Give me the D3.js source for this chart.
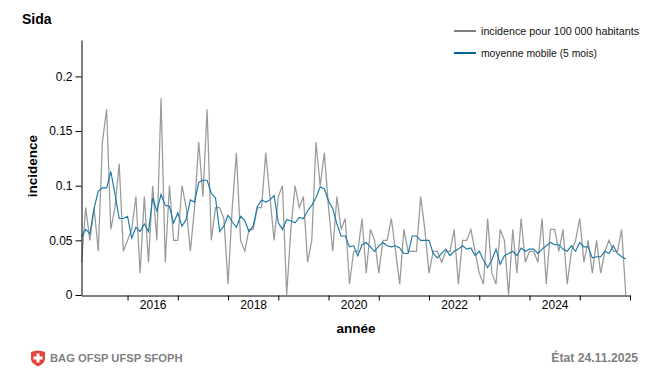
<!DOCTYPE html>
<html><head><meta charset="utf-8">
<script src="https://cdn.jsdelivr.net/npm/d3@7/dist/d3.min.js"></script>
<style>html,body{margin:0;padding:0;background:#fff}svg{display:block}text{font-family:"Liberation Sans",Arial,sans-serif}</style>
</head><body><svg id="c" width="650" height="368"></svg>
<script>
const incidence=[0.03,0.08,0.05,0.08,0.04,0.14,0.17,0.06,0.08,0.12,0.04,0.05,0.06,0.09,0.02,0.09,0.03,0.10,0.05,0.18,0.03,0.10,0.05,0.05,0.10,0.08,0.04,0.08,0.14,0.09,0.17,0.05,0.08,0.08,0.07,0.01,0.08,0.13,0.05,0.04,0.06,0.06,0.08,0.08,0.13,0.09,0.05,0.09,0.10,0,0.06,0.10,0.08,0.09,0.03,0.05,0.14,0.10,0.13,0.08,0.04,0.09,0.06,0.07,0.01,0.04,0.04,0.07,0.02,0.06,0.05,0.02,0.05,0.05,0.07,0.04,0.01,0.06,0.04,0.04,0.04,0.09,0.06,0.02,0.04,0.04,0.03,0.04,0.04,0.06,0.01,0.05,0.05,0.06,0.04,0.02,0.01,0.07,0.02,0.01,0.06,0.05,0,0.06,0.02,0.07,0.03,0.04,0.04,0.03,0.07,0.01,0.06,0.06,0.04,0.06,0.01,0.04,0.05,0.07,0.03,0.05,0.02,0.05,0.02,0.04,0.05,0.04,0.04,0.06,0];
const movingAverage=[0.053,0.06,0.056,0.079,0.095,0.098,0.098,0.113,0.092,0.07,0.07,0.072,0.052,0.062,0.058,0.065,0.058,0.089,0.077,0.092,0.082,0.081,0.066,0.075,0.063,0.069,0.087,0.085,0.103,0.105,0.105,0.093,0.089,0.058,0.063,0.073,0.067,0.062,0.072,0.068,0.058,0.063,0.081,0.087,0.085,0.087,0.091,0.066,0.06,0.069,0.068,0.066,0.071,0.07,0.077,0.082,0.089,0.099,0.097,0.086,0.079,0.065,0.054,0.054,0.044,0.045,0.036,0.046,0.048,0.044,0.04,0.045,0.048,0.045,0.044,0.045,0.043,0.038,0.038,0.054,0.054,0.05,0.05,0.05,0.038,0.034,0.038,0.042,0.036,0.04,0.042,0.045,0.042,0.043,0.036,0.04,0.032,0.025,0.032,0.042,0.028,0.036,0.038,0.04,0.036,0.043,0.04,0.042,0.042,0.038,0.042,0.045,0.048,0.046,0.046,0.042,0.04,0.045,0.04,0.048,0.044,0.044,0.034,0.035,0.035,0.04,0.038,0.045,0.038,0.035,0.033];
const yearTickIndex=[11,23,35,47,59,71,83,95,107,119,131];
const yearLabelIndex=[17,41,65,89,113];
const yearLabels=["2016","2018","2020","2022","2024"];
const yTicks=[0,0.05,0.1,0.15,0.2];
const seriesNames=["incidence pour 100 000 habitants","moyenne mobile (5 mois)"];
const seriesColors=["#808080","#006699"];
const legendWidths=[158,116];

const svg=d3.select("#c");
const x=d3.scaleLinear().domain([0,131]).range([81.5,630]);
const y=d3.scaleLinear().domain([0,0.2333]).range([295,40]);
const line=d3.line().x((d,i)=>x(i)).y(d=>y(d));

svg.append("path").datum(incidence).attr("d",line).attr("fill","none").attr("stroke","#9a9a9a").attr("stroke-width",1.25);
svg.append("path").datum(movingAverage).attr("d",line).attr("fill","none").attr("stroke","#1a78a8").attr("stroke-width",1.15);

const gx=svg.append("g").attr("transform","translate(0,295.5)").call(d3.axisBottom(x).tickValues(yearTickIndex).tickSize(5).tickSizeOuter(0).tickFormat(""));
const gl=svg.append("g").attr("transform","translate(0,295.5)").call(d3.axisBottom(x).tickValues(yearLabelIndex).tickSize(0).tickFormat((d,i)=>yearLabels[i]));
gl.select(".domain").remove();
gl.selectAll("text").attr("y",5).attr("font-size",12).attr("font-family",null).attr("fill","#000");
const gy=svg.append("g").attr("transform","translate(81.5,0)").call(d3.axisLeft(y).tickValues(yTicks).tickSize(6).tickSizeOuter(0).tickFormat(d=>String(d)));
gy.selectAll("text").attr("font-size",12).attr("font-family",null).attr("x",-9);
svg.selectAll(".domain,.tick line").attr("stroke","#000");

svg.append("text").attr("x",22).attr("y",24).attr("font-size",14).attr("font-weight","bold").text("Sida");
svg.append("text").attr("transform","translate(37,166) rotate(-90)").attr("text-anchor","middle").attr("font-size",13.5).attr("font-weight","bold").text("incidence");
svg.append("text").attr("x",356).attr("y",333).attr("text-anchor","middle").attr("font-size",13.5).attr("font-weight","bold").text("année");

const ly=[31,53];
seriesNames.forEach((n,i)=>{
  svg.append("line").attr("x1",454).attr("x2",476).attr("y1",ly[i]).attr("y2",ly[i]).attr("stroke",seriesColors[i]).attr("stroke-width",2);
  svg.append("text").attr("x",481).attr("y",ly[i]+4).attr("font-size",11.3).attr("textLength",legendWidths[i]).attr("lengthAdjust","spacingAndGlyphs").attr("fill","#111").text(n);
});

const logo=svg.append("g").attr("transform","translate(30,350)");
logo.append("path").attr("d","M1 2 Q8 -1 15 2 L15 9 Q15 13 8 16.5 Q1 13 1 9 Z").attr("fill","#e8423f");
logo.append("path").attr("d","M6.5 3.5h3v3h3v3h-3v3h-3v-3h-3v-3h3z").attr("fill","#fff");
svg.append("text").attr("x",50).attr("y",362).attr("font-size",11.2).attr("font-weight","bold").attr("fill","#808080").text("BAG OFSP UFSP SFOPH");
svg.append("text").attr("x",638).attr("y",362).attr("text-anchor","end").attr("font-size",12.2).attr("font-weight","bold").attr("fill","#808080").text("État 24.11.2025");
</script></body></html>
